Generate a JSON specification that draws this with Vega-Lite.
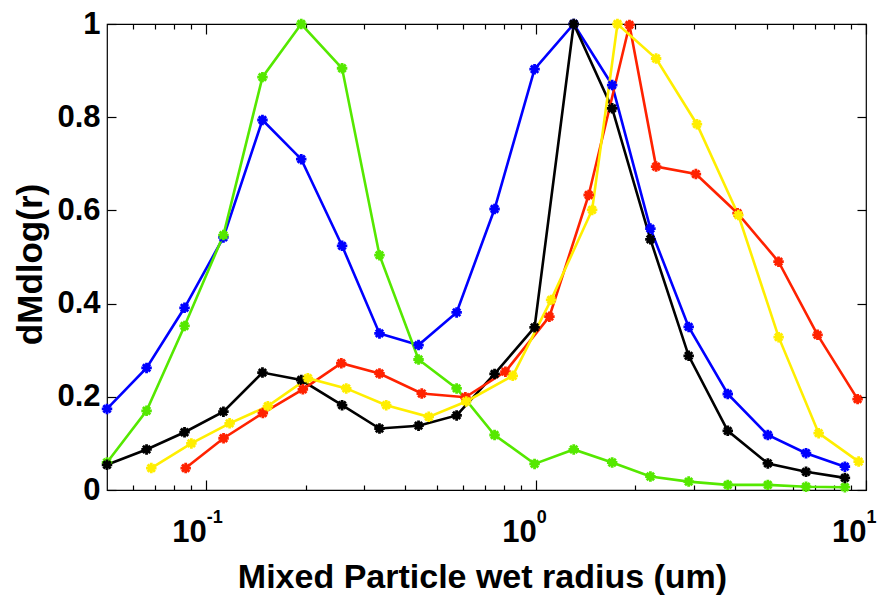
{
  "$schema": "https://vega.github.io/schema/vega-lite/v6.json",
  "width": 759,
  "height": 466,
  "autosize": {"type": "none"},
  "padding": {"left": 107, "top": 24, "right": 26, "bottom": 106},
  "background": "#ffffff",
  "config": {
    "view": {"stroke": "#000000", "strokeWidth": 1.2},
    "axis": {"labelFont": "Liberation Sans", "titleFont": "Liberation Sans", "labelColor": "#000000", "titleColor": "#000000", "tickColor": "#000000", "domainColor": "#000000", "grid": false}
  },
  "datasets": {
    "d": [
      {"s": "b", "x": 0.05, "y": 0.174}, {"s": "b", "x": 0.0659, "y": 0.262}, {"s": "b", "x": 0.0859, "y": 0.391}, {"s": "b", "x": 0.1127, "y": 0.542}, {"s": "b", "x": 0.148, "y": 0.794}, {"s": "b", "x": 0.194, "y": 0.71}, {"s": "b", "x": 0.258, "y": 0.524}, {"s": "b", "x": 0.335, "y": 0.336}, {"s": "b", "x": 0.44, "y": 0.311}, {"s": "b", "x": 0.574, "y": 0.381}, {"s": "b", "x": 0.748, "y": 0.603}, {"s": "b", "x": 0.989, "y": 0.903}, {"s": "b", "x": 1.3, "y": 1.0}, {"s": "b", "x": 1.7, "y": 0.869}, {"s": "b", "x": 2.22, "y": 0.561}, {"s": "b", "x": 2.9, "y": 0.35}, {"s": "b", "x": 3.81, "y": 0.206}, {"s": "b", "x": 5.04, "y": 0.118}, {"s": "b", "x": 6.58, "y": 0.079}, {"s": "b", "x": 8.63, "y": 0.05},
      {"s": "g", "x": 0.05, "y": 0.059}, {"s": "g", "x": 0.0659, "y": 0.17}, {"s": "g", "x": 0.0859, "y": 0.352}, {"s": "g", "x": 0.1127, "y": 0.547}, {"s": "g", "x": 0.148, "y": 0.886}, {"s": "g", "x": 0.194, "y": 1.0}, {"s": "g", "x": 0.258, "y": 0.905}, {"s": "g", "x": 0.335, "y": 0.504}, {"s": "g", "x": 0.44, "y": 0.28}, {"s": "g", "x": 0.574, "y": 0.218}, {"s": "g", "x": 0.748, "y": 0.118}, {"s": "g", "x": 0.989, "y": 0.056}, {"s": "g", "x": 1.3, "y": 0.087}, {"s": "g", "x": 1.7, "y": 0.059}, {"s": "g", "x": 2.22, "y": 0.029}, {"s": "g", "x": 2.9, "y": 0.018}, {"s": "g", "x": 3.81, "y": 0.011}, {"s": "g", "x": 5.04, "y": 0.011}, {"s": "g", "x": 6.58, "y": 0.007}, {"s": "g", "x": 8.63, "y": 0.006},
      {"s": "k", "x": 0.05, "y": 0.054}, {"s": "k", "x": 0.0659, "y": 0.087}, {"s": "k", "x": 0.0859, "y": 0.124}, {"s": "k", "x": 0.1127, "y": 0.168}, {"s": "k", "x": 0.148, "y": 0.252}, {"s": "k", "x": 0.194, "y": 0.236}, {"s": "k", "x": 0.258, "y": 0.182}, {"s": "k", "x": 0.335, "y": 0.132}, {"s": "k", "x": 0.44, "y": 0.138}, {"s": "k", "x": 0.574, "y": 0.16}, {"s": "k", "x": 0.748, "y": 0.249}, {"s": "k", "x": 0.989, "y": 0.349}, {"s": "k", "x": 1.3, "y": 1.0}, {"s": "k", "x": 1.7, "y": 0.819}, {"s": "k", "x": 2.22, "y": 0.538}, {"s": "k", "x": 2.9, "y": 0.288}, {"s": "k", "x": 3.81, "y": 0.127}, {"s": "k", "x": 5.04, "y": 0.057}, {"s": "k", "x": 6.58, "y": 0.039}, {"s": "k", "x": 8.63, "y": 0.026},
      {"s": "r", "x": 0.0866, "y": 0.047}, {"s": "r", "x": 0.1128, "y": 0.111}, {"s": "r", "x": 0.1484, "y": 0.165}, {"s": "r", "x": 0.1962, "y": 0.216}, {"s": "r", "x": 0.2566, "y": 0.272}, {"s": "r", "x": 0.335, "y": 0.25}, {"s": "r", "x": 0.45, "y": 0.207}, {"s": "r", "x": 0.61, "y": 0.199}, {"s": "r", "x": 0.807, "y": 0.254}, {"s": "r", "x": 1.097, "y": 0.372}, {"s": "r", "x": 1.443, "y": 0.633}, {"s": "r", "x": 1.918, "y": 0.998}, {"s": "r", "x": 2.31, "y": 0.694}, {"s": "r", "x": 3.05, "y": 0.678}, {"s": "r", "x": 4.08, "y": 0.594}, {"s": "r", "x": 5.43, "y": 0.49}, {"s": "r", "x": 7.13, "y": 0.333}, {"s": "r", "x": 9.43, "y": 0.195},
      {"s": "y", "x": 0.0681, "y": 0.047}, {"s": "y", "x": 0.0901, "y": 0.1}, {"s": "y", "x": 0.1177, "y": 0.143}, {"s": "y", "x": 0.1537, "y": 0.18}, {"s": "y", "x": 0.2032, "y": 0.24}, {"s": "y", "x": 0.2656, "y": 0.218}, {"s": "y", "x": 0.3511, "y": 0.182}, {"s": "y", "x": 0.4726, "y": 0.157}, {"s": "y", "x": 0.6137, "y": 0.19}, {"s": "y", "x": 0.8494, "y": 0.245}, {"s": "y", "x": 1.11, "y": 0.408}, {"s": "y", "x": 1.478, "y": 0.601}, {"s": "y", "x": 1.764, "y": 1.0}, {"s": "y", "x": 2.31, "y": 0.926}, {"s": "y", "x": 3.072, "y": 0.785}, {"s": "y", "x": 4.102, "y": 0.59}, {"s": "y", "x": 5.435, "y": 0.328}, {"s": "y", "x": 7.186, "y": 0.122}, {"s": "y", "x": 9.5, "y": 0.061}
    ]
  },
  "data": {"name": "d"},
  "layer": [
    {
      "mark": {"type": "line", "strokeWidth": 2.6, "clip": false},
      "encoding": {
        "x": {"field": "x", "type": "quantitative",
          "scale": {"type": "log", "domain": [0.05, 10], "nice": false},
          "axis": {"orient": "bottom", "values": [0.1, 1, 10], "labelExpr": "'10'", "ticks": false, "domain": false,
            "labelFontWeight": "bold", "labelFontSize": 31, "labelPadding": 27, "labelAlign": "right", "labelDx": 7, "labelBaseline": "top",
            "labelFlush": false, "labelOverlap": false, "labelBound": false,
            "title": "Mixed Particle wet radius  (um)", "titleFontWeight": "bold", "titleFontSize": 34,
            "titleX": 375, "titleY": 97, "titleBaseline": "alphabetic", "titleAlign": "center", "titleAnchor": null}},
        "y": {"field": "y", "type": "quantitative",
          "scale": {"domain": [0, 1], "nice": false, "zero": false},
          "axis": {"orient": "left", "values": [0, 0.2, 0.4, 0.6, 0.8, 1], "format": "~g", "ticks": false, "domain": false,
            "labelFontWeight": "bold", "labelFontSize": 31, "labelPadding": 7, "labelFlush": false, "labelOverlap": false, "labelBaseline": "middle",
            "title": "dMdlog(r)", "titleFontWeight": "bold", "titleFontSize": 35, "titleX": -66, "titleY": 240, "titleAngle": -90,
            "titleBaseline": "alphabetic", "titleAlign": "center", "titleAnchor": null}},
        "color": {"field": "s", "type": "nominal",
          "scale": {"domain": ["r", "y", "k", "g", "b"], "range": ["#ff2200", "#ffee00", "#000000", "#55e800", "#0000ff"]},
          "legend": null}
      }
    },
    {
      "mark": {"type": "point", "shape": "M-1,0L1,0M0,-1L0,1M-0.7,-0.7L0.7,0.7M-0.7,0.7L0.7,-0.7", "filled": false, "size": 110, "strokeWidth": 2.8, "opacity": 1, "clip": false},
      "encoding": {
        "x": {"field": "x", "type": "quantitative",
          "axis": {"orient": "bottom", "values": [0.1, 1, 10], "labelExpr": "datum.value < 0.5 ? '-1' : (datum.value < 5 ? '0' : '1')", "ticks": false, "domain": false,
            "labelFontWeight": "bold", "labelFontSize": 18, "labelPadding": 18, "labelAlign": "left", "labelDx": 10, "labelBaseline": "top",
            "labelFlush": false, "labelOverlap": false, "labelBound": false, "title": null}},
        "y": {"field": "y", "type": "quantitative",
          "axis": {"orient": "left", "offset": -759, "values": [0, 0.2, 0.4, 0.6, 0.8, 1], "ticks": true, "labels": false, "domain": false, "tickSize": 9, "tickWidth": 1.2, "title": null}},
        "color": {"field": "s", "type": "nominal", "legend": null}
      }
    },
    {
      "mark": {"type": "point", "opacity": 0},
      "encoding": {
        "x": {"field": "x", "type": "quantitative",
          "axis": {"orient": "top", "offset": -466, "values": [0.1, 1, 10], "ticks": true, "labels": false, "domain": false, "tickSize": 10, "tickWidth": 1.2, "title": null}},
        "y": {"field": "y", "type": "quantitative",
          "axis": {"orient": "right", "offset": -759, "values": [0, 0.2, 0.4, 0.6, 0.8, 1], "ticks": true, "labels": false, "domain": false, "tickSize": 9, "tickWidth": 1.2, "title": null}}
      }
    },
    {
      "mark": {"type": "point", "opacity": 0},
      "encoding": {
        "x": {"field": "x", "type": "quantitative",
          "axis": {"orient": "top", "offset": -466, "values": [0.06, 0.07, 0.08, 0.09, 0.2, 0.3, 0.4, 0.5, 0.6, 0.7, 0.8, 0.9, 2, 3, 4, 5, 6, 7, 8, 9], "ticks": true, "labels": false, "domain": false, "tickSize": 5, "tickWidth": 1.2, "title": null}},
        "y": {"field": "y", "type": "quantitative", "axis": null}
      }
    },
    {
      "mark": {"type": "point", "opacity": 0},
      "encoding": {
        "x": {"field": "x", "type": "quantitative",
          "axis": {"orient": "bottom", "offset": -466, "values": [0.1, 1, 10], "ticks": true, "labels": false, "domain": false, "tickSize": 10, "tickWidth": 1.2, "title": null}},
        "y": {"field": "y", "type": "quantitative", "axis": null}
      }
    },
    {
      "mark": {"type": "point", "opacity": 0},
      "encoding": {
        "x": {"field": "x", "type": "quantitative",
          "axis": {"orient": "bottom", "offset": -466, "values": [0.06, 0.07, 0.08, 0.09, 0.2, 0.3, 0.4, 0.5, 0.6, 0.7, 0.8, 0.9, 2, 3, 4, 5, 6, 7, 8, 9], "ticks": true, "labels": false, "domain": false, "tickSize": 5, "tickWidth": 1.2, "title": null}},
        "y": {"field": "y", "type": "quantitative", "axis": null}
      }
    }
  ],
  "resolve": {"axis": {"x": "independent", "y": "independent"}}
}
